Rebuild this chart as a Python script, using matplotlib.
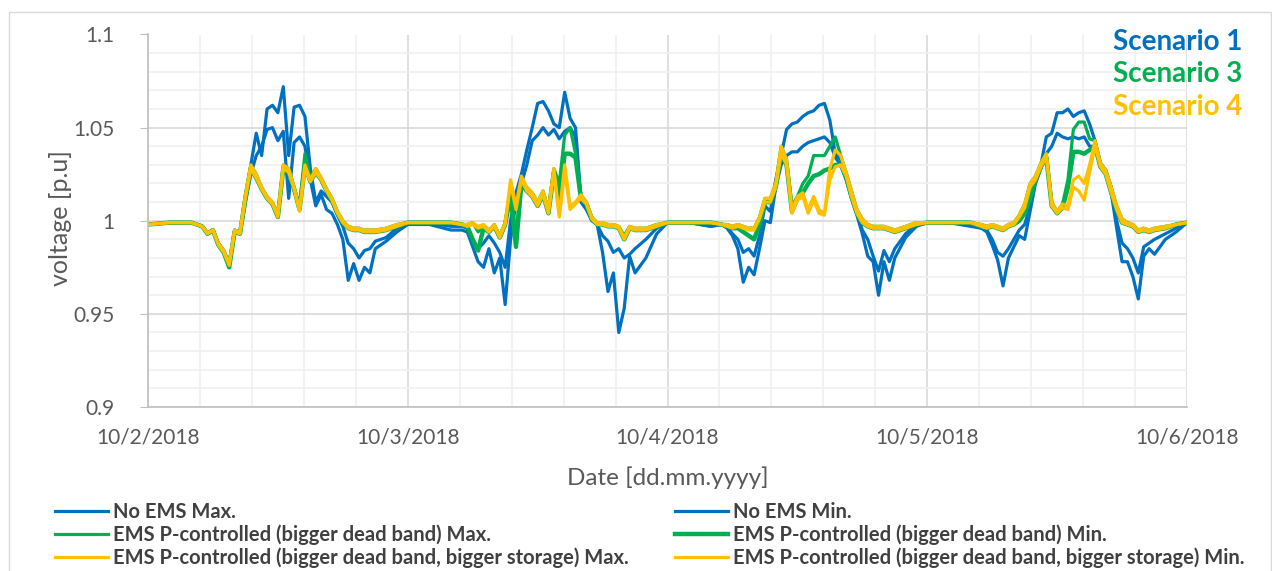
import numpy as np
import matplotlib.pyplot as plt
from matplotlib.patches import Rectangle

plt.rcParams['font.family'] = ['Lato', 'DejaVu Sans']

# sample times inside one day [h]; denser during daylight hours
day_hours = [0, 2, 4] + list(np.arange(5, 21.5, 0.5)) + [22, 23]
hours = np.concatenate([np.array(day_hours) + 24 * d for d in range(4)] + [[96]])

date_labels = ['10/2/2018', '10/3/2018', '10/4/2018', '10/5/2018', '10/6/2018']

# voltage [p.u], one row per day
no_ems_max = [
    .998, .999, .999, .997, .9935, .995, .988, .984, .977, .995, .994, 1.012, 1.030, 1.047, 1.035, 1.060, 1.062, 1.058, 1.072,
    1.035, 1.061, 1.062, 1.056, 1.028, 1.010, 1.016, 1.013, 1.010, 1.003, .997, .988, .985, .980, .984, .985, .989, .991, .996,
    .999, .999, .997, .997, .996, .990, .985, .988, .992, .988, .983, .975, 1.000, 1.015, 1.025, 1.038, 1.050, 1.063, 1.064,
    1.059, 1.052, 1.050, 1.069, 1.055, 1.050, 1.012, 1.008, 1.001, .998, .992, .989, .983, .985, .980, .982, .985, .990, .996,
    .999, .999, .997, .998, .997, .993, .990, .983, .985, .981, .992, 1.008, 1.005, 1.022, 1.035, 1.049, 1.052, 1.053, 1.056,
    1.058, 1.059, 1.062, 1.063, 1.054, 1.036, 1.033, 1.024, 1.014, 1.005, .995, .990, .981, .973, .984, .978, .985, .993, .998,
    .999, .999, .998, .996, .995, .990, .983, .981, .985, .990, .995, .998, 1.008, 1.022, 1.030, 1.045, 1.047, 1.058, 1.058,
    1.060, 1.056, 1.058, 1.059, 1.052, 1.043, 1.031, 1.027, 1.018, 1.000, .988, .985, .980, .972, .986, .988, .990, .993, .996,
    .999]
no_ems_min = [
    .998, .999, .999, .997, .993, .995, .987, .983, .976, .994, .993, 1.010, 1.025, 1.035, 1.040, 1.049, 1.050, 1.043, 1.048,
    1.012, 1.042, 1.045, 1.040, 1.022, 1.008, 1.014, 1.006, 1.004, .998, .990, .968, .977, .968, .975, .972, .985, .989, .994,
    .998, .998, .995, .995, .994, .986, .978, .975, .985, .972, .980, .955, .990, 1.010, 1.020, 1.030, 1.043, 1.046, 1.050,
    1.046, 1.049, 1.044, 1.048, 1.050, 1.045, 1.010, 1.006, 1.000, .998, .983, .962, .972, .940, .953, .981, .972, .980, .993,
    .999, .999, .997, .998, .996, .992, .985, .967, .975, .971, .985, 1.000, .999, 1.018, 1.030, 1.035, 1.037, 1.037, 1.040,
    1.042, 1.043, 1.044, 1.045, 1.042, 1.034, 1.030, 1.022, 1.012, 1.003, .993, .981, .978, .960, .978, .968, .980, .991, .997,
    .999, .999, .997, .996, .994, .987, .979, .965, .980, .986, .992, .990, 1.005, 1.020, 1.028, 1.036, 1.040, 1.047, 1.045,
    1.044, 1.045, 1.044, 1.045, 1.040, 1.040, 1.029, 1.025, 1.015, .996, .978, .978, .970, .958, .981, .985, .982, .990, .994,
    .999]
db_max = [
    .998, .999, .999, .997, .9935, .995, .988, .984, .977, .995, .994, 1.014, 1.030, 1.025, 1.018, 1.013, 1.010, 1.003, 1.030,
    1.028, 1.018, 1.008, 1.036, 1.023, 1.028, 1.023, 1.017, 1.012, 1.005, 1.000, .997, .996, .996, .995, .995, .995, .996, .998,
    .999, .999, .999, .998, .998, .999, .994, .997, .995, .998, .992, .999, 1.016, .992, 1.022, 1.018, 1.015, 1.010, 1.016,
    1.006, 1.028, 1.020, 1.046, 1.050, 1.036, 1.014, 1.010, 1.002, .999, .999, .998, .998, .997, .992, .997, .996, .996, .998,
    .999, .999, .999, .998, .998, .997, .998, .997, .996, .996, 1.002, 1.012, 1.012, 1.020, 1.040, 1.033, 1.008, 1.013, 1.020,
    1.024, 1.035, 1.035, 1.035, 1.040, 1.045, 1.035, 1.026, 1.016, 1.006, 1.001, .998, .997, .997, .997, .996, .995, .997, .999,
    .999, .999, .999, .998, .997, .998, .997, .996, .998, .999, 1.003, 1.009, 1.020, 1.024, 1.031, 1.036, 1.010, 1.005, 1.009,
    1.022, 1.049, 1.053, 1.053, 1.044, 1.043, 1.031, 1.027, 1.018, 1.008, 1.001, .999, .998, .995, .996, .995, .996, .997, .998,
    .999]
db_min = [
    .998, .999, .999, .997, .993, .995, .987, .983, .975, .994, .993, 1.012, 1.028, 1.023, 1.017, 1.012, 1.009, 1.002, 1.028,
    1.026, 1.017, 1.006, 1.030, 1.021, 1.026, 1.022, 1.016, 1.011, 1.004, .999, .996, .995, .995, .994, .994, .994, .995, .997,
    .999, .999, .999, .998, .997, .990, .984, .996, .994, .997, .991, .998, 1.014, .986, 1.020, 1.016, 1.013, 1.008, 1.014,
    1.004, 1.026, 1.012, 1.036, 1.036, 1.034, 1.012, 1.009, 1.001, .998, .998, .997, .997, .996, .990, .996, .995, .995, .997,
    .999, .999, .999, .998, .997, .996, .996, .994, .992, .990, .998, 1.010, 1.010, 1.018, 1.036, 1.030, 1.005, 1.012, 1.015,
    1.020, 1.024, 1.025, 1.027, 1.028, 1.030, 1.030, 1.024, 1.013, 1.004, .999, .997, .996, .996, .996, .995, .994, .996, .998,
    .999, .999, .999, .997, .996, .997, .996, .995, .997, .998, 1.000, 1.004, 1.012, 1.022, 1.029, 1.034, 1.008, 1.004, 1.007,
    1.018, 1.037, 1.037, 1.036, 1.038, 1.040, 1.029, 1.025, 1.015, 1.006, .999, .998, .997, .994, .995, .994, .995, .996, .998,
    .999]
db_st_max = [
    .998, .999, .999, .997, .9935, .995, .988, .984, .977, .995, .994, 1.014, 1.030, 1.025, 1.018, 1.013, 1.010, 1.003, 1.030,
    1.028, 1.018, 1.006, 1.030, 1.022, 1.028, 1.023, 1.017, 1.012, 1.005, 1.000, .997, .996, .996, .995, .995, .995, .996, .998,
    .999, .999, .999, .998, .998, .999, .997, .998, .995, .998, .992, .999, 1.022, 1.008, 1.024, 1.018, 1.015, 1.010, 1.016,
    1.006, 1.028, 1.003, 1.030, 1.008, 1.010, 1.014, 1.010, 1.002, .999, .999, .998, .998, .997, .991, .997, .996, .996, .998,
    .999, .999, .999, .998, .998, .997, .998, .997, .996, .996, 1.002, 1.012, 1.012, 1.020, 1.040, 1.033, 1.006, 1.013, 1.015,
    1.006, 1.013, 1.006, 1.004, 1.028, 1.038, 1.035, 1.026, 1.016, 1.006, 1.001, .998, .997, .997, .997, .996, .995, .997, .999,
    .999, .999, .999, .998, .997, .998, .997, .996, .998, .999, 1.003, 1.009, 1.020, 1.024, 1.031, 1.036, 1.010, 1.005, 1.009,
    1.008, 1.022, 1.024, 1.020, 1.030, 1.043, 1.031, 1.027, 1.018, 1.008, 1.001, .999, .998, .995, .996, .995, .996, .997, .998,
    .999]
db_st_min = [
    .998, .999, .999, .997, .993, .995, .987, .983, .976, .994, .993, 1.012, 1.028, 1.023, 1.017, 1.012, 1.009, 1.002, 1.028,
    1.026, 1.017, 1.005, 1.028, 1.021, 1.026, 1.022, 1.016, 1.011, 1.004, .999, .996, .995, .995, .994, .994, .994, .995, .997,
    .999, .999, .999, .998, .997, .998, .996, .997, .994, .997, .991, .998, 1.020, 1.006, 1.022, 1.016, 1.013, 1.008, 1.014,
    1.004, 1.026, 1.002, 1.026, 1.006, 1.009, 1.012, 1.009, 1.001, .998, .998, .997, .997, .996, .990, .996, .995, .995, .997,
    .999, .999, .999, .998, .997, .996, .997, .996, .995, .995, 1.001, 1.010, 1.010, 1.018, 1.036, 1.030, 1.004, 1.011, 1.013,
    1.004, 1.011, 1.004, 1.003, 1.022, 1.029, 1.030, 1.024, 1.013, 1.004, .999, .997, .996, .996, .996, .995, .994, .996, .998,
    .999, .999, .999, .997, .996, .997, .996, .995, .997, .998, 1.002, 1.007, 1.018, 1.022, 1.029, 1.034, 1.008, 1.004, 1.007,
    1.006, 1.018, 1.016, 1.011, 1.026, 1.040, 1.029, 1.025, 1.015, 1.006, .999, .998, .997, .994, .995, .994, .995, .996, .998,
    .999]

BLUE, GREEN, YELLOW = '#0070C0', '#00B050', '#FFC000'
TXT = '#595959'

fig = plt.figure(figsize=(12.72, 5.71), dpi=100)
ax = fig.add_axes([148 / 1272, 1 - 407 / 571, (1187 - 148) / 1272, (407 - 34.5) / 571])

l1, = ax.plot(hours, no_ems_max, color=BLUE, lw=2.3, label='No EMS Max.')
l2, = ax.plot(hours, no_ems_min, color=BLUE, lw=2.3, label='No EMS Min.')
l3, = ax.plot(hours, db_max, color=GREEN, lw=2.3, label='EMS P-controlled (bigger dead band) Max.')
l4, = ax.plot(hours, db_min, color=GREEN, lw=3.2, label='EMS P-controlled (bigger dead band) Min.')
l5, = ax.plot(hours, db_st_max, color=YELLOW, lw=2.3,
              label='EMS P-controlled (bigger dead band, bigger storage) Max.')
l6, = ax.plot(hours, db_st_min, color=YELLOW, lw=2.3,
              label='EMS P-controlled (bigger dead band, bigger storage) Min.')

ax.set_xlim(0, 96)
ax.set_ylim(0.9, 1.1)
ax.set_xticks([0, 24, 48, 72, 96])
ax.set_xticklabels(date_labels)
ax.set_xticks(np.arange(0, 96.1, 4.8), minor=True)
ax.set_yticks([0.9, 0.95, 1.0, 1.05, 1.1])
ax.set_yticklabels(['0.9', '0.95', '1', '1.05', '1.1'])
ax.set_yticks(np.arange(0.9, 1.1001, 0.01), minor=True)
ax.set_axisbelow(True)
ax.grid(which='minor', color='#F0F0F0', lw=1.2)
ax.grid(which='major', color='#D9D9D9', lw=1.2)
ax.tick_params(which='minor', length=0)
ax.tick_params(axis='y', which='major', length=6, color='#BFBFBF', pad=18, labelsize=15, labelcolor=TXT)
ax.tick_params(axis='x', which='major', length=0, pad=15, labelsize=15, labelcolor=TXT)
for s in ['top', 'right']:
    ax.spines[s].set_visible(False)
for s in ['left', 'bottom']:
    ax.spines[s].set_color('#BFBFBF')
    ax.spines[s].set_linewidth(1.2)

fig.text(60 / 1272, 1 - 218 / 571, 'voltage [p.u]', rotation=90, ha='center', va='center',
         fontsize=18, color=TXT)
fig.text(668 / 1272, 1 - 478 / 571, 'Date [dd.mm.yyyy]', ha='center', va='center',
         fontsize=17.5, color=TXT)

for txt, col, base in [('Scenario 1', BLUE, 50), ('Scenario 3', GREEN, 82), ('Scenario 4', YELLOW, 115)]:
    fig.text(1113 / 1272, 1 - base / 571, txt, color=col, fontsize=20, fontweight='bold',
             ha='left', va='baseline')

leg_kw = dict(loc='upper left', frameon=False, borderpad=0, borderaxespad=0, handlelength=2.65,
              handletextpad=0.25, labelspacing=0.13, prop={'size': 14.5, 'weight': 'bold'},
              labelcolor='#404040')
fig.legend(handles=[l1, l3, l5], bbox_to_anchor=(55 / 1272, 1 - 502 / 571), **leg_kw)
fig.legend(handles=[l2, l4, l6], bbox_to_anchor=(675 / 1272, 1 - 502 / 571), **leg_kw)

fig.patches.append(Rectangle((9 / 1272, -0.05), (1271 - 9) / 1272, 1.05 - 12 / 571,
                             transform=fig.transFigure, fill=False, edgecolor='#D9D9D9', lw=1.0))

fig.savefig('out.png', dpi=100)
